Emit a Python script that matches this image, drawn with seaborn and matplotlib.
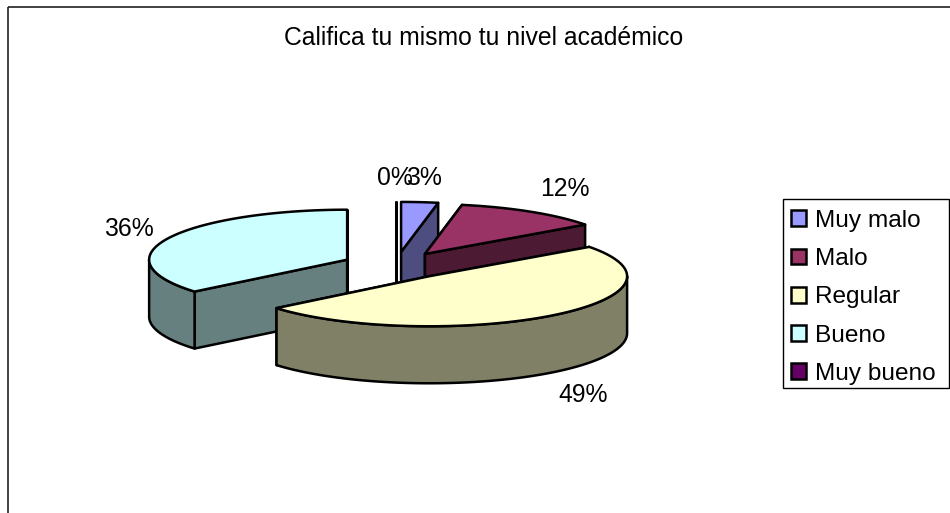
# Exploded 3D pie: Califica tu mismo tu nivel academico
import numpy as np
import matplotlib
matplotlib.use("Agg")
import matplotlib.pyplot as plt
from matplotlib.patches import Patch, Polygon, Rectangle
import seaborn as sns

# Data
categories = ["Muy malo", "Malo", "Regular", "Bueno", "Muy bueno"]
percentages = [3, 12, 49, 36, 0]
title_text = "Califica tu mismo tu nivel académico"

# Colours
top_colors = sns.color_palette(["#9999FF", "#993366", "#FFFFCC", "#CCFFFF", "#660066"])

# Layout, in pixels of the 950x513 image
center_x, center_y = 396, 265.5
radius_x, radius_y = 198, 50
depth = 57
explode = 54
label_positions = [(424, 178), (565, 189), (583, 395), (129, 229), (395, 178)]

sns.set_theme(style="white")
plt.rcParams["font.family"] = ["Liberation Sans", "DejaVu Sans"]

fig = plt.figure(figsize=(9.5, 5.13), dpi=100)
ax = fig.add_axes([0, 0, 1, 1])
ax.set_xlim(0, 950)
ax.set_ylim(513, 0)
ax.axis("off")

# chart area border, runs off the image on the right and at the bottom
ax.add_patch(Rectangle((8, 7), 1200, 800, fill=False, edgecolor="#222222", linewidth=1.2))


def rim(cx, cy, angle):
    # angle in degrees, clockwise from 12 o'clock
    a = np.radians(angle)
    return cx + radius_x * np.sin(a), cy - radius_y * np.cos(a)


def arc_points(cx, cy, a0, a1):
    angles = np.linspace(a0, a1, max(int(abs(a1 - a0)) * 2, 2))
    xs, ys = rim(cx, cy, angles)
    return list(zip(xs, ys))


def draw_slice(a0, a1, color):
    mid = np.radians((a0 + a1) / 2)
    cx = center_x + explode * np.sin(mid)
    cy = center_y - explode * (radius_y / radius_x) * np.cos(mid)
    side = tuple(c * 0.5 for c in color)
    style = dict(edgecolor="black", linewidth=1.8, joinstyle="round")

    # the two cut faces
    for angle in (a0, a1):
        rx, ry = rim(cx, cy, angle)
        face = [(cx, cy), (rx, ry), (rx, ry + depth), (cx, cy + depth)]
        ax.add_patch(Polygon(face, closed=True, facecolor=side, **style))

    # outer wall, only the front half of the ellipse can be seen
    w0, w1 = max(a0, 90), min(a1, 270)
    if w1 > w0:
        pts = arc_points(cx, cy, w0, w1)
        wall = pts + [(x, y + depth) for x, y in reversed(pts)]
        ax.add_patch(Polygon(wall, closed=True, facecolor=side, **style))

    # top face
    top = [(cx, cy)] + arc_points(cx, cy, a0, a1)
    ax.add_patch(Polygon(top, closed=True, facecolor=color, **style))


# slices, back to front
total = sum(percentages)
ends = np.cumsum(percentages) / total * 360
starts = ends - np.array(percentages) / total * 360
order = np.argsort(-np.cos(np.radians((starts + ends) / 2)), kind="stable")
for i in order:
    draw_slice(starts[i], ends[i], top_colors[i])

# percentage labels
for value, (x, y) in zip(percentages, label_positions):
    ax.text(x, y, f"{value}%", ha="center", va="center", fontsize=17.8, color="black")

ax.text(484, 38, title_text, ha="center", va="center", fontsize=17.8, color="black")

# legend, box drawn on its own so it can be sized to the reference
ax.add_patch(Rectangle((783, 199), 166, 189, facecolor="white", edgecolor="black", linewidth=1.0))
handles = [Patch(facecolor=c, edgecolor="black", linewidth=1.8) for c in top_colors]
legend = ax.legend(
    handles, categories,
    loc="upper left", bbox_to_anchor=(783, 202), bbox_transform=ax.transData,
    fontsize=17.6, frameon=False,
    borderaxespad=0, borderpad=0.32, labelspacing=0.665,
    handlelength=0.62, handleheight=0.62, handletextpad=0.36,
)
for text in legend.get_texts():
    text.set_color("black")

fig.savefig("out.png", dpi=100)
